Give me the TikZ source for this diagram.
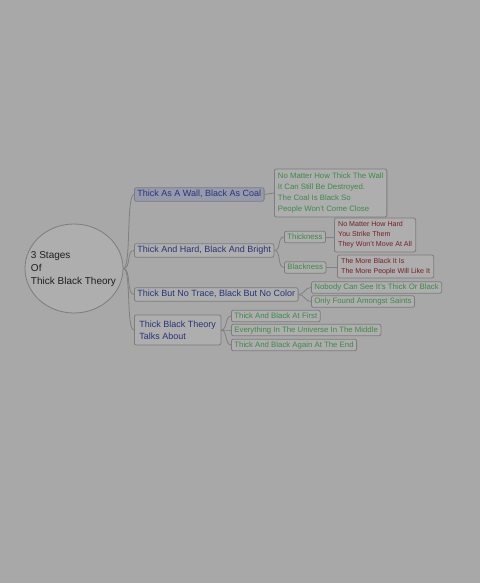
\documentclass[tikz,border=0pt]{standalone}
\usepackage{fontspec}
\setmainfont{Liberation Sans}
\usetikzlibrary{shapes.geometric}
\definecolor{bgc}{RGB}{168,168,168}
\definecolor{boxfill}{RGB}{174,174,174}
\definecolor{selfill}{RGB}{150,154,172}
\definecolor{bordc}{RGB}{125,125,125}
\definecolor{connc}{RGB}{128,128,128}
\definecolor{blueT}{RGB}{40,52,118}
\definecolor{greenT}{RGB}{62,138,70}
\definecolor{redT}{RGB}{118,30,36}
\definecolor{rootT}{RGB}{30,30,30}
\tikzset{
  boxbase/.style={draw=bordc, line width=0.8pt, fill=boxfill, rounded corners=2pt, anchor=west, align=left},
  lone/.style={boxbase, text=blueT, font=\fontsize{9}{12}\selectfont, inner xsep=3pt, inner ysep=2.5pt, text height=6.6pt, text depth=2pt},
  ltwo/.style={boxbase, text=greenT, font=\fontsize{7.8}{11}\selectfont, inner xsep=3pt, inner ysep=2pt, text height=5.8pt, text depth=1.8pt},
  lthree/.style={boxbase, text=redT, font=\fontsize{7.1}{10}\selectfont, inner xsep=3.8pt, inner ysep=3.2pt},
  multi/.style={text height={}, text depth={}},
  conn/.style={draw=connc, line width=0.8pt},
}
\begin{document}
\begin{tikzpicture}[x=1pt, y=-1pt]
\fill[bgc] (0,0) rectangle (480,583);
\useasboundingbox (0,0) rectangle (480,583);

\node[ellipse, draw=bordc, line width=0.8pt, fill=boxfill, minimum width=98pt, minimum height=89pt, inner sep=0pt] (root) at (74,268.5) {};
\node[align=left, text=rootT, font=\fontsize{10}{13}\selectfont, inner sep=0pt] (roottext) at (73.5,269) {3 Stages\\Of\\Thick Black Theory};

\node[lone, fill=selfill] (b1) at (134,194.5) {Thick As A Wall, Black As Coal};
\node[lone] (b2) at (134,250.5) {Thick And Hard, Black And Bright};
\node[lone] (b3) at (134,294.5) {Thick But No Trace, Black But No Color};
\node[lone, multi, inner ysep=5.7pt, inner xsep=5pt] (b4) at (134,330) {Thick Black Theory\\Talks About};

\node[ltwo, multi, inner ysep=3.85pt, inner xsep=3.5pt] (g1) at (274,193) {No Matter How Thick The Wall\\It Can Still Be Destroyed.\\The Coal Is Black So\\People Won't Come Close};
\node[ltwo] (th) at (284,237) {Thickness};
\node[ltwo] (bl) at (284,267.5) {Blackness};
\node[lthree, inner ysep=3.65pt] (r1) at (334,235) {No Matter How Hard\\You Strike Them\\They Won't Move At All};
\node[lthree, inner ysep=3.15pt] (r2) at (337,266.5) {The More Black It Is\\The More People Will Like It};
\node[ltwo] (n1) at (311,287.5) {Nobody Can See It's Thick Or Black};
\node[ltwo] (n2) at (311,301.5) {Only Found Amongst Saints};
\node[ltwo] (t1) at (231,316) {Thick And Black At First};
\node[ltwo] (t2) at (231,330) {Everything In The Universe In The Middle};
\node[ltwo] (t3) at (231,345) {Thick And Black Again At The End};

\foreach \c in {b1,b2,b3,b4}
  \draw[conn] (root.east) .. controls +(8,0) and +(-8,0) .. (\c.west);
\draw[conn] (b1.east) -- (g1.west);
\foreach \c in {th,bl}
  \draw[conn] (b2.east) .. controls +(7,0) and +(-7,0) .. (\c.west);
\draw[conn] (th.east) -- (r1.west |- th.east);
\draw[conn] (bl.east) -- (r2.west |- bl.east);
\foreach \c in {n1,n2}
  \draw[conn] (b3.east) .. controls +(6,0) and +(-6,0) .. (\c.west);
\foreach \c in {t1,t2,t3}
  \draw[conn] (b4.east) .. controls +(6,0) and +(-6,0) .. (\c.west);
\end{tikzpicture}
\end{document}
